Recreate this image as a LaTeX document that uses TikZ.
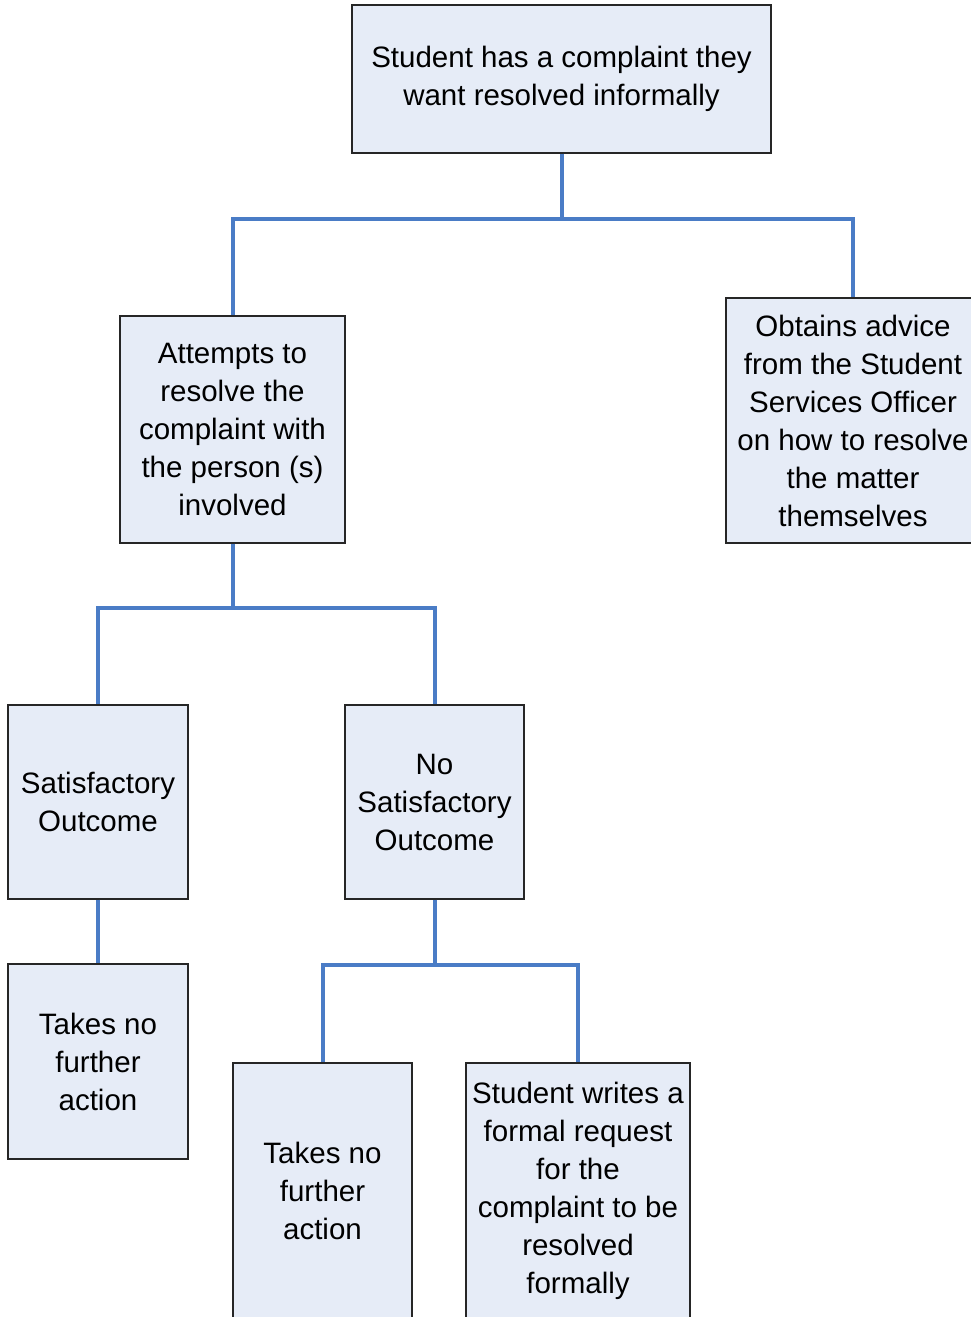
\documentclass[tikz,border=0pt]{standalone}
\usepackage{fontspec}
\setmainfont{Liberation Sans}
\definecolor{boxfill}{HTML}{E6ECF7}
\definecolor{linkblue}{HTML}{4A7CC6}
\tikzset{
  stage/.style={draw=black!85, line width=1.3pt, fill=boxfill, align=center,
    inner sep=0pt, font=\fontsize{29.5}{38}\selectfont},
  link/.style={draw=linkblue, line width=4pt}
}
\begin{document}
\begin{tikzpicture}[x=1pt, y=-1pt]
    \clip (0,0) rectangle (971,1317);
    \fill[white] (0,0) rectangle (971,1317);
    % boxes
    \node[stage, minimum width=419, minimum height=148] (complaint) at (561.5,79)
        {Student has a complaint they\\want resolved informally};
    \node[stage, minimum width=225, minimum height=227] (attempt) at (232.5,429.5)
        {Attempts to\\resolve the\\complaint with\\the person (s)\\involved};
    \node[stage, minimum width=254, minimum height=245] (advice) at (853,420.5)
        {Obtains advice\\from the Student\\Services Officer\\on how to resolve\\the matter\\themselves};
    \node[stage, minimum width=180, minimum height=194] (sat) at (98,802)
        {Satisfactory\\Outcome};
    \node[stage, minimum width=179, minimum height=194] (nosat) at (434.5,802)
        {No\\Satisfactory\\Outcome};
    \node[stage, minimum width=180, minimum height=195] (nofurther1) at (98,1061.5)
        {Takes no\\further\\action};
    \node[stage, minimum width=179, minimum height=256] (nofurther2) at (322.5,1191)
        {Takes no\\further\\action};
    \node[stage, minimum width=224, minimum height=256] (formal) at (578,1191)
        {Student writes a\\formal request\\for the\\complaint to be\\resolved\\formally};
    % junctions
    \coordinate (j1) at (561.5,219);
    \coordinate (j2) at (232.5,608);
    \coordinate (j3) at (434.5,965);
    % connectors
    \draw[link] (complaint) -- (j1) -| (attempt);
    \draw[link] (j1) -| (advice);
    \draw[link] (attempt) -- (j2) -| (sat);
    \draw[link] (j2) -| (nosat);
    \draw[link] (sat) -- (nofurther1);
    \draw[link] (nosat) -- (j3) -| (nofurther2);
    \draw[link] (j3) -| (formal);
\end{tikzpicture}
\end{document}
